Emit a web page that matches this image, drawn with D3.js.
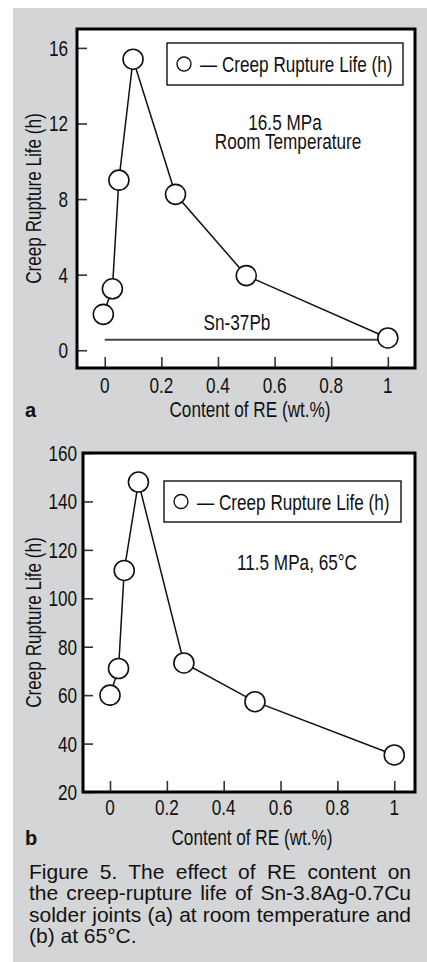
<!DOCTYPE html>
<html>
<head>
<meta charset="utf-8">
<script src="https://cdn.jsdelivr.net/npm/d3@7"></script>
<style>
  body { margin: 0; background: #fff; }
  svg { display: block; }
  svg text { font-family: "Liberation Sans", Arial, Helvetica, sans-serif; fill: #111; }
  svg text.lbl { font-size: 22px; }
  svg text.caption { font-size: 21px; }
</style>
</head>
<body>
<div id="fig"></div>
<script>
// panel a: 16.5 MPa, room temperature
var reContentA = [-0.005, 0.027, 0.05, 0.1, 0.25, 0.5, 1.0];
var ruptureLifeA = [1.9, 3.25, 9.0, 15.4, 8.25, 3.95, 0.65];
var snPbLife = 0.55;           // Sn-37Pb reference level
var snPbSpan = [0, 1];
var yTicksA = [0, 4, 8, 12, 16];

// panel b: 11.5 MPa, 65°C
var reContentB = [0, 0.03, 0.05, 0.1, 0.26, 0.51, 1.0];
var ruptureLifeB = [60, 71, 111.5, 148, 73.3, 57.3, 35.3];
var yTicksB = [20, 40, 60, 80, 100, 120, 140, 160];

var xTicks = [0, 0.2, 0.4, 0.6, 0.8, 1];

var captionLines = [
  "Figure 5. The effect of RE content on",
  "the creep-rupture life of Sn-3.8Ag-0.7Cu",
  "solder joints (a) at room temperature and",
  "(b) at 65\u00B0C."
];

var width = 427, height = 962;
var narrow = 0.78;   // the figure uses a condensed face

var svg = d3.select("#fig").append("svg")
  .attr("width", width)
  .attr("height", height);

svg.append("rect")
  .attr("x", 13).attr("y", 8)
  .attr("width", width - 13).attr("height", height - 8)
  .attr("fill", "#d4d5d7");

// condensed label: text squeezed horizontally around its anchor point
function label(parent, x, y, str, anchor, rot) {
  var tr = "translate(" + x + "," + y + ")" + (rot ? " rotate(" + rot + ")" : "") + " scale(" + narrow + ",1)";
  return parent.append("text")
    .attr("class", "lbl")
    .attr("transform", tr)
    .attr("text-anchor", anchor || "start")
    .text(str);
}

function drawPanel(p) {
  var x = d3.scaleLinear().domain(p.xDomain).range([p.left, p.right]);
  var y = d3.scaleLinear().domain(p.yDomain).range([p.bottom, p.top]);
  var g = svg.append("g");

  g.append("rect")
    .attr("x", p.left).attr("y", p.top)
    .attr("width", p.right - p.left).attr("height", p.bottom - p.top)
    .attr("fill", "#fff");

  // inward ticks
  var yAxis = g.append("g")
    .attr("transform", "translate(" + p.left + ",0)")
    .call(d3.axisRight(y).tickValues(p.yTicks).tickSize(10).tickFormat(""));
  var xAxis = g.append("g")
    .attr("transform", "translate(0," + p.bottom + ")")
    .call(d3.axisTop(x).tickValues(xTicks).tickSize(11).tickFormat(""));
  [yAxis, xAxis].forEach(function(a) {
    a.select(".domain").remove();
    a.selectAll("line").attr("stroke", "#333").attr("stroke-width", 1.6);
  });

  p.yTicks.forEach(function(d) {
    label(g, p.yLabelX, y(d) + 8, d, "end");
  });
  xTicks.forEach(function(d) {
    label(g, x(d), p.xLabelY, d, "middle");
  });

  if (p.refLevel != null) {
    g.append("line")
      .attr("x1", x(p.refSpan[0])).attr("x2", x(p.refSpan[1]))
      .attr("y1", y(p.refLevel)).attr("y2", y(p.refLevel))
      .attr("stroke", "#444").attr("stroke-width", 2);
    label(g, 237, 330, "Sn-37Pb", "middle");
  }

  var pts = p.xs.map(function(v, i) { return [v, p.ys[i]]; });
  var line = d3.line()
    .x(function(d) { return x(d[0]); })
    .y(function(d) { return y(d[1]); });

  g.append("path")
    .datum(pts)
    .attr("d", line)
    .attr("fill", "none")
    .attr("stroke", "#111")
    .attr("stroke-width", 1.5);

  g.selectAll(".pt")
    .data(pts)
    .enter().append("circle")
    .attr("cx", function(d) { return x(d[0]); })
    .attr("cy", function(d) { return y(d[1]); })
    .attr("r", 10)
    .attr("fill", "#fff")
    .attr("stroke", "#111")
    .attr("stroke-width", 1.6);

  // frame on top
  g.append("rect")
    .attr("x", p.left).attr("y", p.top)
    .attr("width", p.right - p.left).attr("height", p.bottom - p.top)
    .attr("fill", "none")
    .attr("stroke", "#000")
    .attr("stroke-width", 3);

  // legend
  var lg = p.legend;
  g.append("rect")
    .attr("x", lg.x).attr("y", lg.y)
    .attr("width", lg.w).attr("height", lg.h)
    .attr("fill", "#fff").attr("stroke", "#111").attr("stroke-width", 1.4);
  g.append("circle")
    .attr("cx", lg.x + 17).attr("cy", lg.y + lg.h / 2)
    .attr("r", 7).attr("fill", "#fff")
    .attr("stroke", "#111").attr("stroke-width", 1.4);
  label(g, lg.x + 33, lg.y + lg.h / 2 + 8, "\u2014 Creep Rupture Life (h)");

  p.notes.forEach(function(n) {
    label(g, n.x, n.y, n.text, "middle");
  });

  // axis titles
  label(g, 41, (p.top + p.bottom) / 2, "Creep Rupture Life (h)", "middle", -90);
  label(g, p.xTitleX, p.xTitleY, "Content of RE (wt.%)", "middle");
  g.append("text")
    .attr("x", 25).attr("y", p.xTitleY)
    .style("font-weight", "bold")
    .style("font-size", "20px")
    .text(p.tag);
}

drawPanel({
  xs: reContentA, ys: ruptureLifeA, yTicks: yTicksA,
  xDomain: [-0.098, 1.096], yDomain: [-0.94, 17.0],
  left: 77, right: 415, top: 29, bottom: 368,
  yLabelX: 68, xLabelY: 393,
  refLevel: snPbLife, refSpan: snPbSpan,
  legend: { x: 167, y: 43, w: 236, h: 42 },
  notes: [
    { x: 285, y: 130, text: "16.5 MPa" },
    { x: 288, y: 149, text: "Room Temperature" }
  ],
  xTitleX: 250, xTitleY: 417, tag: "a"
});

drawPanel({
  xs: reContentB, ys: ruptureLifeB, yTicks: yTicksB,
  xDomain: [-0.095, 1.073], yDomain: [20, 160],
  left: 83, right: 415, top: 453, bottom: 792,
  yLabelX: 77, xLabelY: 815,
  refLevel: null,
  legend: { x: 164, y: 481, w: 237, h: 41 },
  notes: [
    { x: 297, y: 570, text: "11.5 MPa, 65\u00B0C" }
  ],
  xTitleX: 252, xTitleY: 845, tag: "b"
});

// caption, justified by word spacing between x=29 and x=411 except last line
var capLeft = 29, capRight = 411;
captionLines.forEach(function(str, i) {
  var t = svg.append("text")
    .attr("class", "caption")
    .attr("x", capLeft)
    .attr("y", 879 + i * 21.4)
    .text(str);
  if (i < captionLines.length - 1) {
    var gaps = str.split(" ").length - 1;
    var extra = (capRight - capLeft - t.node().getComputedTextLength()) / gaps;
    t.style("word-spacing", extra + "px");
  }
});
</script>
</body>
</html>
